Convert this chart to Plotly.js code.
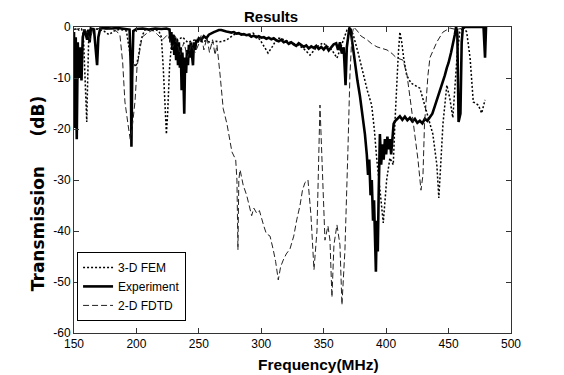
<!DOCTYPE html>
<html>
<head>
<meta charset="utf-8">
<script src="https://cdn.plot.ly/plotly-3.0.1.min.js"></script>
<style>
  html, body { margin: 0; padding: 0; background: #ffffff; }
  #chart { width: 564px; height: 375px; }
</style>
</head>
<body>
<div id="chart"></div>
<script>
// ---- Data ----
// 3-D FEM (dotted)
const femFreq = [150, 152, 154, 156, 157.5, 158.5, 159.5, 160.2, 161, 161.8, 163, 166, 170, 174, 178, 180, 182, 186, 190, 192, 193.5, 195, 197, 199.5, 201.5, 203, 205, 207, 212, 216, 218, 220, 221.5, 223, 224, 225, 226.5, 228, 229.5, 233, 237, 241, 245, 248.5, 252, 256, 260, 264, 267, 272, 278, 283, 288.5, 293.4, 299, 302, 305.4, 309, 312.6, 315, 318, 323, 328, 333.4, 339, 344.6, 349.4, 353, 356.6, 360.6, 364.6, 368.6, 371, 373.7, 377.5, 381.7, 385, 388.4, 390.5, 392.4, 394.5, 395.7, 397.7, 400.4, 403, 405.7, 407, 408.4, 409.7, 411, 412.5, 414, 416.5, 420, 424, 427, 432.5, 437.4, 440.6, 442.2, 444, 445.5, 448.6, 451, 453.4, 455, 457, 459, 462, 464.5, 467.2, 469.8, 473.8, 476.5, 479.2];
const femDb   = [-0.5, -0.3, -0.6, -0.4, -1.5, -8, -17, -18.6, -10, -2, -0.5, -0.3, -0.5, -0.8, -1.5, -1.2, -0.8, -0.5, -0.6, -0.8, -3, -5.5, -6.8, -7.8, -6, -3.5, -1.5, -0.5, -0.7, -0.6, -0.8, -2, -8, -16, -21, -17, -8, -3.5, -1.5, -2.5, -2, -3, -2.6, -2.4, -2.9, -2.7, -3.1, -2.8, -2.9, -2.6, -1.5, -1.2, -1.6, -1.2, -2.5, -3.8, -5.1, -3.8, -2.2, -2.2, -2.5, -2.9, -3.4, -4.1, -5.5, -3.9, -3.1, -3.8, -4.5, -6.1, -3.5, -0.6, 0, -1.6, -5, -9.4, -12.5, -15.3, -20, -25.7, -30, -33.5, -38.4, -30, -25.7, -27, -19, -11, -5.5, -1, -3, -6, -9.5, -11, -11.5, -12, -16.7, -21, -27, -33.5, -25.7, -19, -11.4, -14, -17.8, -12.7, -5, -1, 0, -1, -6, -14.7, -15.3, -16.9, -14.3];

// Experiment (thick solid)
const expFreq = [150, 150.6, 151.4, 152.2, 153, 154, 155, 156, 157, 158.5, 160.5, 161.5, 162.5, 163.5, 166, 167.5, 168.5, 169.5, 171, 175, 180, 185, 190, 194.5, 195.5, 196, 196.6, 197.5, 200, 205, 210, 215, 220, 224, 226.5, 227.3, 228, 228.8, 229.5, 230.3, 231, 231.8, 232.5, 233.3, 234, 234.8, 235.5, 236.2, 236.8, 237.5, 238.3, 239, 239.8, 240.5, 241.3, 242, 242.8, 243.5, 244.3, 245.3, 246, 247, 248, 249, 250, 252, 254, 256, 258, 260, 262, 264, 266, 268, 270, 272, 274, 276, 278, 280, 282, 284, 286, 288, 290, 292, 294, 296, 298, 300, 302, 304, 306, 308, 310, 312, 314, 316, 318, 320, 322, 324, 326, 328, 330, 332, 334, 336, 338, 340, 342, 344, 346, 348, 350, 352, 354, 356, 358, 360, 361.5, 363, 364.5, 366, 367.5, 368.5, 369.5, 370.5, 371.5, 373, 375, 377, 379, 381, 383, 384.5, 385.5, 386.5, 387.5, 388.5, 389.5, 390.3, 391, 391.8, 392.5, 393.3, 394, 395, 396, 397, 398, 399, 400, 401, 402, 403, 404, 405, 406, 407, 409, 411, 413, 415, 417, 419, 421, 423, 425, 427, 429, 431, 433, 435, 437, 439, 441, 443, 445, 447, 448.6, 450, 452, 453.5, 455, 456, 457, 458, 459.5, 460.5, 461.5, 466, 472, 478, 479.2, 480];
const expDb   = [-1, -19.8, -2, -22, -3, -10, -4, -10.5, -2, -0.5, -2.5, -0.5, -3, -0.3, -0.5, -4, -7.5, -2, -0.3, -0.2, -0.3, -0.2, -0.3, -0.5, -8, -23.5, -10, -0.8, -0.4, -0.3, -0.5, -0.3, -0.4, -0.3, -0.5, -3, -1, -4.5, -1.5, -5.5, -2, -6.5, -2.5, -7.5, -3, -8, -4, -12.4, -5, -8.5, -17, -6, -9, -4.5, -7.5, -3.5, -6, -3, -5, -7.5, -3, -4.5, -2.5, -3, -2.2, -2.5, -1.8, -2.2, -1.5, -1.2, -1, -0.8, -0.6, -0.6, -0.8, -0.9, -1, -1.1, -1, -1.3, -1.2, -1.5, -1.4, -1.6, -1.5, -1.9, -1.7, -2, -1.8, -2.1, -2, -2.3, -2.1, -2.4, -2.2, -2.6, -2.8, -2.5, -3, -2.8, -3.3, -3, -3.4, -3.7, -3.2, -3.6, -3.9, -3.6, -4.2, -3.8, -4.1, -3.7, -4.3, -3.9, -4.4, -3.8, -4.6, -4, -3.4, -3.2, -4.5, -3, -5.2, -4, -11.4, -4, -1.5, -0.2, -0.5, -3.5, -7.5, -10.5, -13.5, -17, -21, -25, -29, -26, -33, -30, -38, -34, -44, -48, -38, -44, -33, -21, -27, -23, -26, -22, -25, -21.5, -24, -22, -25, -21, -19, -18.5, -18, -17.5, -18.2, -17.6, -18.3, -17.8, -18.5, -18, -18.8, -18.4, -18.9, -18, -18.4, -17.6, -17, -15.5, -14, -12.7, -11, -9.5, -8, -7, -5, -3.5, -1.5, 0, -1, -18.6, -17, -3, 0, 0, 0, 0, -6, 0];

// 2-D FDTD (dashed)
const fdtdFreq = [150, 155, 160, 163, 165, 170, 175, 180, 184, 186.8, 189, 190.8, 193.2, 195, 196.5, 198.9, 200.5, 202.5, 204.5, 208.5, 213, 217, 221, 225, 229, 232, 235, 238, 241, 244, 247, 250, 252, 254, 256.5, 258.5, 261, 263, 264.5, 267, 269.5, 272.5, 276.5, 279.5, 280.5, 281.3, 282, 283, 285.5, 288.3, 290.5, 292.3, 294, 296.3, 298.5, 300.3, 302, 304, 307, 309.6, 311.5, 313.6, 315.5, 317.6, 320, 323, 326, 328.4, 331, 333, 335, 337.4, 339.8, 342.2, 344.6, 347, 349.4, 351, 353.4, 355, 356.6, 358.2, 360.6, 363, 364.6, 367, 369.4, 371, 372.6, 374, 377, 380, 384.7, 388.5, 392.7, 396.7, 400.7, 404.7, 408, 413.5, 416.7, 419.9, 423.1, 425.5, 427.9, 429.5, 430.7, 431.9, 433.5, 435.1, 440.7, 445.5, 451.1, 456, 460];
const fdtdDb   = [-0.5, -0.3, -0.8, -2.5, -0.5, -0.3, -0.5, -0.4, -0.8, -1.6, -7, -14.7, -19, -22, -20, -14.5, -7.8, -4.5, -2, -1.2, -0.6, -1.5, -2.5, -1.5, -4, -2.5, -5.5, -3, -6, -3.5, -5, -3.3, -1.5, -4.5, -2, -5, -2.5, -5.5, -3.5, -9.4, -16, -19, -24.5, -26, -30, -43.7, -30, -28, -31, -33, -35.5, -37, -35.5, -36.5, -36, -37.8, -39, -40.5, -41, -43.7, -46, -49.6, -47, -45.7, -44.5, -43.5, -41, -37.8, -35, -32, -30.5, -30, -37, -47.6, -40, -15.3, -34, -41.8, -39, -41.8, -53, -42.7, -38.8, -42.7, -54.5, -43.7, -24, -9.4, -1.6, 0, -0.8, -1.8, -2.5, -3.3, -3.9, -4.2, -4.5, -5.2, -6, -6.5, -9.4, -15.3, -21, -26, -32, -29, -19.2, -14.3, -9.4, -6, -2.9, -1, -0.2, -0.5, -0.3];

// Axis ticks
const xTicks = [150, 200, 250, 300, 350, 400, 450, 500];
const yTicks = [-60, -50, -40, -30, -20, -10, 0];
const yTickText = ['-60', '-50', '-40', '-30', '-20', '-10', '0'];

const NARROW = '"Liberation Sans Narrow", "Arial Narrow", "Liberation Sans", Arial, sans-serif';

const traces = [
  { x: femFreq, y: femDb, name: '3-D FEM', type: 'scatter', mode: 'lines',
    line: { color: '#000000', width: 1.5, dash: '2px,2px' } },
  { x: expFreq, y: expDb, name: 'Experiment', type: 'scatter', mode: 'lines',
    line: { color: '#000000', width: 2.6 } },
  { x: fdtdFreq, y: fdtdDb, name: '2-D FDTD', type: 'scatter', mode: 'lines',
    line: { color: '#222222', width: 1, dash: '6px,3px' } }
];

const layout = {
  width: 564, height: 375,
  margin: { l: 74, r: 53, t: 27, b: 42 },
  paper_bgcolor: '#ffffff', plot_bgcolor: '#ffffff',
  showlegend: true,
  title: { text: '<b>Results</b>', font: { family: NARROW, size: 15, color: '#000000' },
           xref: 'paper', x: 0.451, xanchor: 'center', yref: 'container', y: 0.955, yanchor: 'middle' },
  xaxis: {
    range: [150, 500], tickvals: xTicks, ticktext: xTicks.map(String),
    ticks: 'inside', ticklen: 5, tickcolor: '#333333', showline: true, linecolor: '#333333', linewidth: 1,
    mirror: 'ticks', showgrid: false, zeroline: false,
    tickfont: { family: NARROW, size: 12, color: '#000000' },
    title: { text: '&nbsp;&nbsp;&nbsp;&nbsp;&nbsp;&nbsp;&nbsp;&nbsp;&nbsp;&nbsp;&nbsp;&nbsp;<b>Frequency(MHz)</b>', font: { family: NARROW, size: 15.5, color: '#000000' }, standoff: 8 }
  },
  yaxis: {
    range: [-60, 0], tickvals: yTicks, ticktext: yTickText,
    ticks: 'inside', ticklen: 5, tickcolor: '#333333', showline: true, linecolor: '#333333', linewidth: 1,
    mirror: 'ticks', showgrid: false, zeroline: false,
    tickfont: { family: NARROW, size: 12, color: '#000000' },
    title: { text: '<b>Transmission&nbsp;&nbsp;&nbsp;&nbsp;&nbsp;(dB)</b>&nbsp;&nbsp;&nbsp;&nbsp;&nbsp;', font: { family: '"DejaVu Sans", Verdana, sans-serif', size: 17, color: '#000000' }, standoff: 4 }
  },
  legend: {
    x: 0.007, y: 0.265, xanchor: 'left', yanchor: 'top',
    bgcolor: '#ffffff', bordercolor: '#000000', borderwidth: 1,
    font: { family: NARROW, size: 12, color: '#000000' },
    itemwidth: 30
  }
};

Plotly.newPlot('chart', traces, layout, { staticPlot: true, displayModeBar: false });
</script>
</body>
</html>
